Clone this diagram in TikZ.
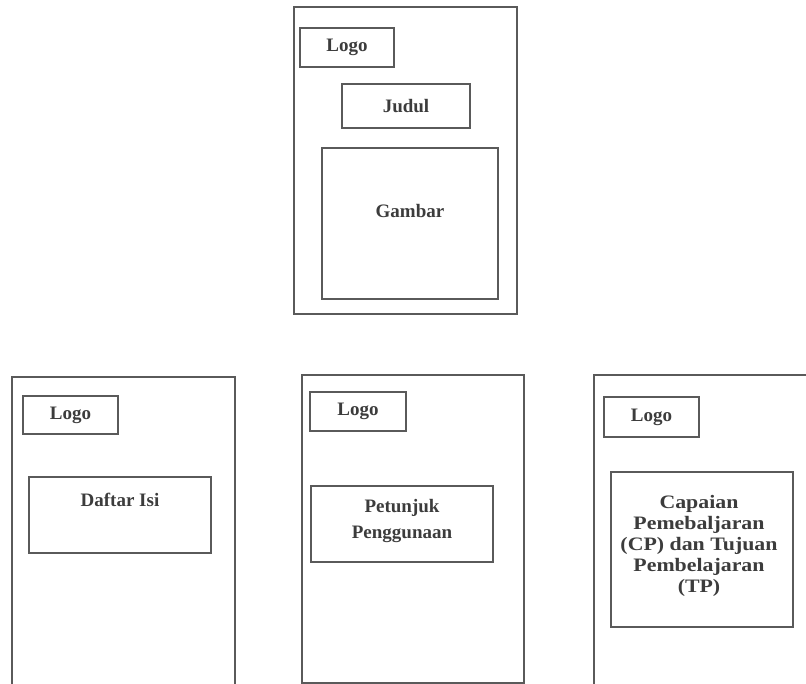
\documentclass[tikz,border=0pt]{standalone}
\usepackage{fontspec}
\setmainfont{Liberation Serif}
\newfontfamily\cpfont[FakeStretch=1.15]{Liberation Serif}
\definecolor{linegray}{HTML}{5A5A5A}
\definecolor{textgray}{HTML}{3C3C3C}
\begin{document}
\begin{tikzpicture}[x=1pt,y=-1pt,
  frame/.style={draw=linegray, line width=1.2pt},
  box/.style={draw=linegray, line width=1.1pt, rectangle, inner sep=0pt, fill=none},
  lbl/.style={text=textgray, font=\fontsize{19}{26}\selectfont\bfseries, align=center, inner sep=0pt},
  cplbl/.style={text=textgray, font=\cpfont\fontsize{19}{21}\selectfont\bfseries, align=center, inner sep=0pt}]
\useasboundingbox (0,0) rectangle (806,684);
\clip (0,0) rectangle (806,684);
% top page
\node[box, minimum width=223pt, minimum height=307pt] (page1) at (405.5,160.5) {};
\node[box, minimum width=94pt, minimum height=39pt] (logo1) at (347,47.5) {};
\node[lbl] (logo1t) at (logo1.center) {Logo};
\node[box, minimum width=128pt, minimum height=44pt] (judul) at (406,106) {};
\node[lbl] (judult) at (judul.center) {Judul};
\node[box, minimum width=176pt, minimum height=151pt] (gambar) at (410,223.5) {};
\node[lbl] (gambart) at (410,211) {Gambar};
% bottom left page
\draw[frame] (12,700) -- (12,377) -- (235,377) -- (235,700);
\node[box, minimum width=95pt, minimum height=38pt] (logo2) at (70.5,415) {};
\node[lbl] (logo2t) at (logo2.center) {Logo};
\node[box, minimum width=182pt, minimum height=76pt] (daftar) at (120,515) {};
\node[lbl] (daftart) at (120,500) {Daftar Isi};
% bottom middle page
\node[box, minimum width=222pt, minimum height=308pt] (page3) at (413,529) {};
\node[box, minimum width=96pt, minimum height=39pt] (logo3) at (358,411.5) {};
\node[lbl] (logo3t) at (logo3.center) {Logo};
\node[box, minimum width=182pt, minimum height=76pt] (petunjuk) at (402,524) {};
\node[lbl] (petunjukt) at (402,521) {Petunjuk\\Penggunaan};
% bottom right page
\draw[frame] (594,700) -- (594,375) -- (820,375);
\node[box, minimum width=95pt, minimum height=40pt] (logo4) at (651.5,417) {};
\node[lbl] (logo4t) at (logo4.center) {Logo};
\node[box, minimum width=182pt, minimum height=155pt] (cp) at (702,549.5) {};
\node[cplbl] (cpt) at (699,546) {Capaian\\Pemebaljaran\\(CP) dan Tujuan\\Pembelajaran\\(TP)};
\end{tikzpicture}
\end{document}
